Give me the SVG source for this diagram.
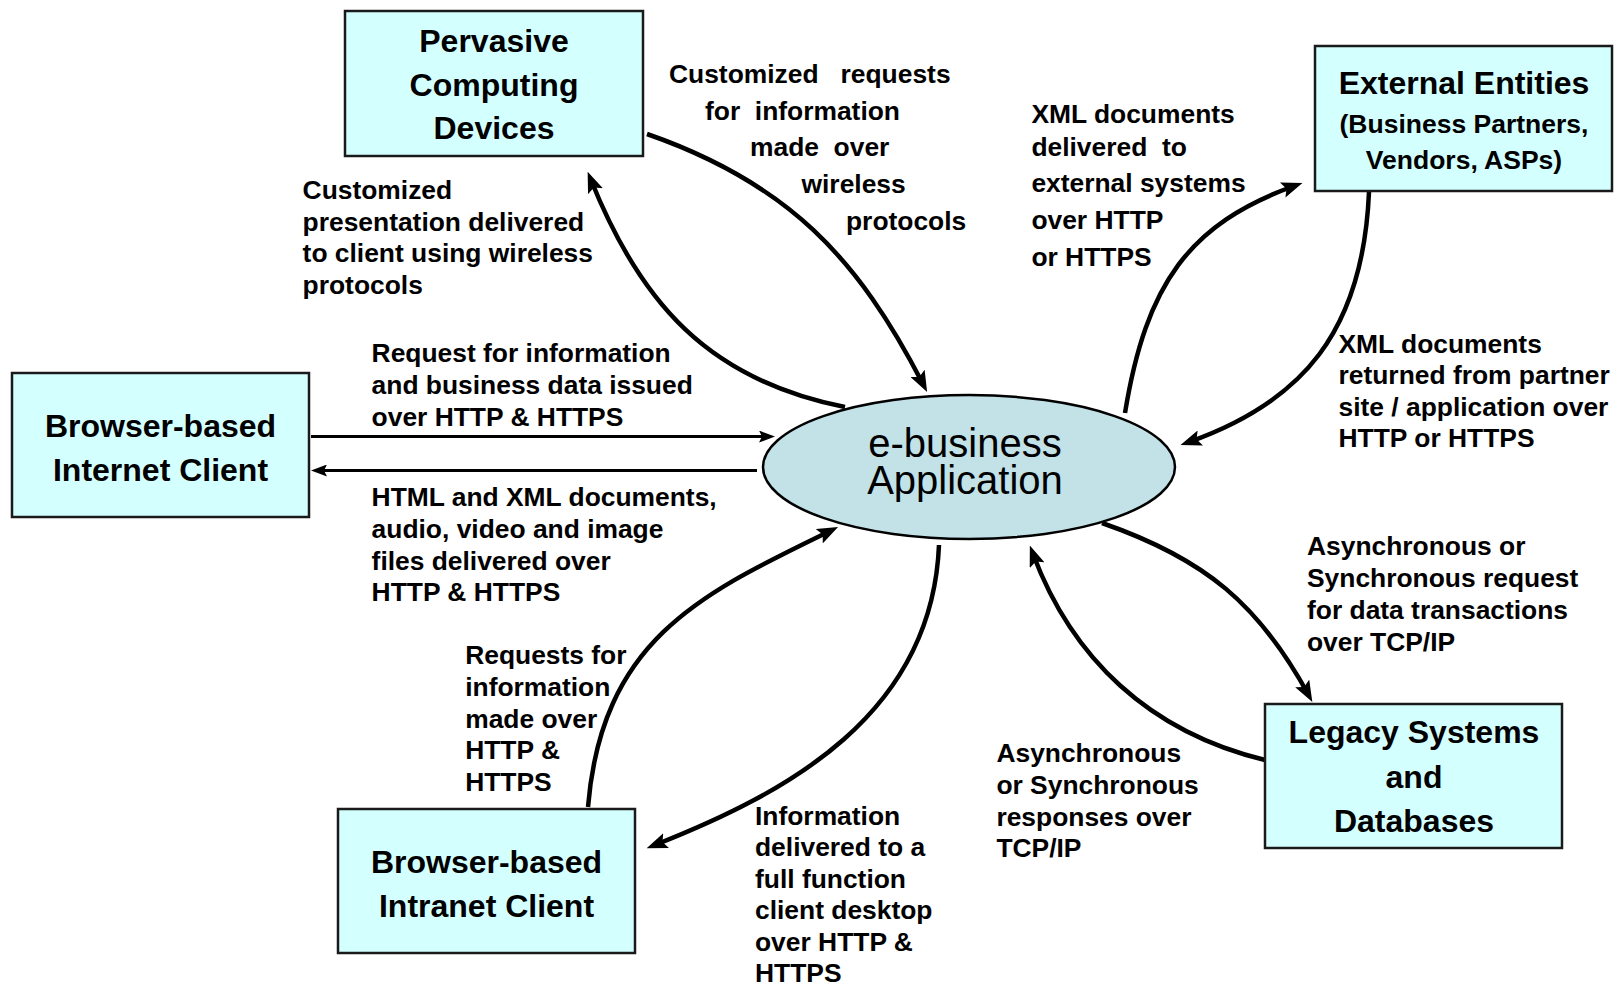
<svg xmlns="http://www.w3.org/2000/svg" width="1614" height="988" viewBox="0 0 1614 988">
<style>
.box{fill:#D4FFFF;stroke:#1a1a1a;stroke-width:2.5}
.ell{fill:#C2E2E8;stroke:#000;stroke-width:2.5}
.tb{font-family:"Liberation Sans",Arial,sans-serif;font-weight:bold;font-size:32px;fill:#000;text-anchor:middle}
.ts{font-family:"Liberation Sans",Arial,sans-serif;font-weight:bold;font-size:26.5px;fill:#000;text-anchor:middle}
.te{font-family:"Liberation Sans",Arial,sans-serif;font-size:40px;fill:#000;text-anchor:middle}
.lb{font-family:"Liberation Sans",Arial,sans-serif;font-weight:bold;font-size:26.4px;fill:#000;white-space:pre}
.c{fill:none;stroke:#000;stroke-width:4.5;marker-end:url(#ah)}
.s{fill:none;stroke:#000;stroke-width:3;marker-end:url(#as)}
</style>
<defs>
<marker id="ah" markerUnits="userSpaceOnUse" markerWidth="21" markerHeight="16" refX="12" refY="8" orient="auto" viewBox="0 0 21 16"><path d="M0,0 L21,8 L0,16 L4,8 z" fill="#000"/></marker>
<marker id="as" markerUnits="userSpaceOnUse" markerWidth="16" markerHeight="12" refX="9" refY="6" orient="auto" viewBox="0 0 16 12"><path d="M0,0 L16,6 L0,12 L3,6 z" fill="#000"/></marker>
</defs>
<rect width="1614" height="988" fill="#fff"/>

<g id="connectors">
<path class="c" d="M647,134 C788,183 858,258 923,384"/>
<path class="c" d="M845,407 C708,380 640,302 591,180"/>
<path class="s" d="M311,436.5 L768,436.5"/>
<path class="s" d="M757,470.5 L318,470.5"/>
<path class="c" d="M588,807 C602,638 703,593 830,531"/>
<path class="c" d="M939,545 C932,715 787,793 655,845"/>
<path class="c" d="M1102,523 C1206,559 1259,605 1308,694"/>
<path class="c" d="M1265,760 C1149,732 1072,658 1033,554"/>
<path class="c" d="M1125,413 C1146,284 1189,224 1294,186"/>
<path class="c" d="M1369,192 C1363,332 1302,402 1189,442"/>
</g>

<g id="pervasive">
<rect class="box" x="345" y="11" width="298" height="145"/>
<text class="tb" x="494" y="52">Pervasive</text>
<text class="tb" x="494" y="95.5">Computing</text>
<text class="tb" x="494" y="139">Devices</text>
</g>

<g id="external">
<rect class="box" x="1315" y="46" width="297" height="145"/>
<text class="tb" x="1464" y="93.5">External Entities</text>
<text class="ts" x="1464" y="133">(Business Partners,</text>
<text class="ts" x="1464" y="169">Vendors, ASPs)</text>
</g>

<g id="internet">
<rect class="box" x="12" y="373" width="297" height="144"/>
<text class="tb" x="160.5" y="437">Browser-based</text>
<text class="tb" x="160.5" y="481">Internet Client</text>
</g>

<g id="intranet">
<rect class="box" x="338" y="809" width="297" height="144"/>
<text class="tb" x="486.5" y="873">Browser-based</text>
<text class="tb" x="486.5" y="917">Intranet Client</text>
</g>

<g id="legacy">
<rect class="box" x="1265" y="704" width="297" height="144"/>
<text class="tb" x="1414" y="743">Legacy Systems</text>
<text class="tb" x="1414" y="788">and</text>
<text class="tb" x="1414" y="832">Databases</text>
</g>

<g id="ebusiness">
<ellipse class="ell" cx="969" cy="467" rx="206" ry="72"/>
<text class="te" x="965" y="456.5">e-business</text>
<text class="te" x="965" y="494">Application</text>
</g>

<g id="labels">
<text class="lb" x="669" y="82.5">Customized   requests</text>
<text class="lb" x="705" y="119.5">for  information</text>
<text class="lb" x="750" y="156">made  over</text>
<text class="lb" x="801.5" y="193">wireless</text>
<text class="lb" x="846" y="229.5">protocols</text>

<text class="lb" x="302.6" y="198.7">Customized</text>
<text class="lb" x="302.6" y="230.5">presentation delivered</text>
<text class="lb" x="302.6" y="262.3">to client using wireless</text>
<text class="lb" x="302.6" y="294.1">protocols</text>

<text class="lb" x="1031.4" y="122.5">XML documents</text>
<text class="lb" x="1031.4" y="155.5">delivered  to</text>
<text class="lb" x="1031.4" y="192">external systems</text>
<text class="lb" x="1031.4" y="228.5">over HTTP</text>
<text class="lb" x="1031.4" y="265.5">or HTTPS</text>

<text class="lb" x="371.6" y="361.5">Request for information</text>
<text class="lb" x="371.6" y="393.5">and business data issued</text>
<text class="lb" x="371.6" y="425.5">over HTTP &amp; HTTPS</text>

<text class="lb" x="371.6" y="505.5">HTML and XML documents,</text>
<text class="lb" x="371.6" y="537.5">audio, video and image</text>
<text class="lb" x="371.6" y="569.5">files delivered over</text>
<text class="lb" x="371.6" y="601">HTTP &amp; HTTPS</text>

<text class="lb" x="1338.5" y="352.5">XML documents</text>
<text class="lb" x="1338.5" y="384">returned from partner</text>
<text class="lb" x="1338.5" y="415.5">site / application over</text>
<text class="lb" x="1338.5" y="447">HTTP or HTTPS</text>

<text class="lb" x="1307" y="554.8">Asynchronous or</text>
<text class="lb" x="1307" y="586.7">Synchronous request</text>
<text class="lb" x="1307" y="618.6">for data transactions</text>
<text class="lb" x="1307" y="650.5">over TCP/IP</text>

<text class="lb" x="465.2" y="663.5">Requests for</text>
<text class="lb" x="465.2" y="695.5">information</text>
<text class="lb" x="465.2" y="727.5">made over</text>
<text class="lb" x="465.2" y="759.4">HTTP &amp;</text>
<text class="lb" x="465.2" y="791.3">HTTPS</text>

<text class="lb" x="755" y="824.5">Information</text>
<text class="lb" x="755" y="856">delivered to a</text>
<text class="lb" x="755" y="887.5">full function</text>
<text class="lb" x="755" y="919">client desktop</text>
<text class="lb" x="755" y="950.5">over HTTP &amp;</text>
<text class="lb" x="755" y="982">HTTPS</text>

<text class="lb" x="996.4" y="761.5">Asynchronous</text>
<text class="lb" x="996.4" y="793.5">or Synchronous</text>
<text class="lb" x="996.4" y="825.5">responses over</text>
<text class="lb" x="996.4" y="857.4">TCP/IP</text>
</g>
</svg>
